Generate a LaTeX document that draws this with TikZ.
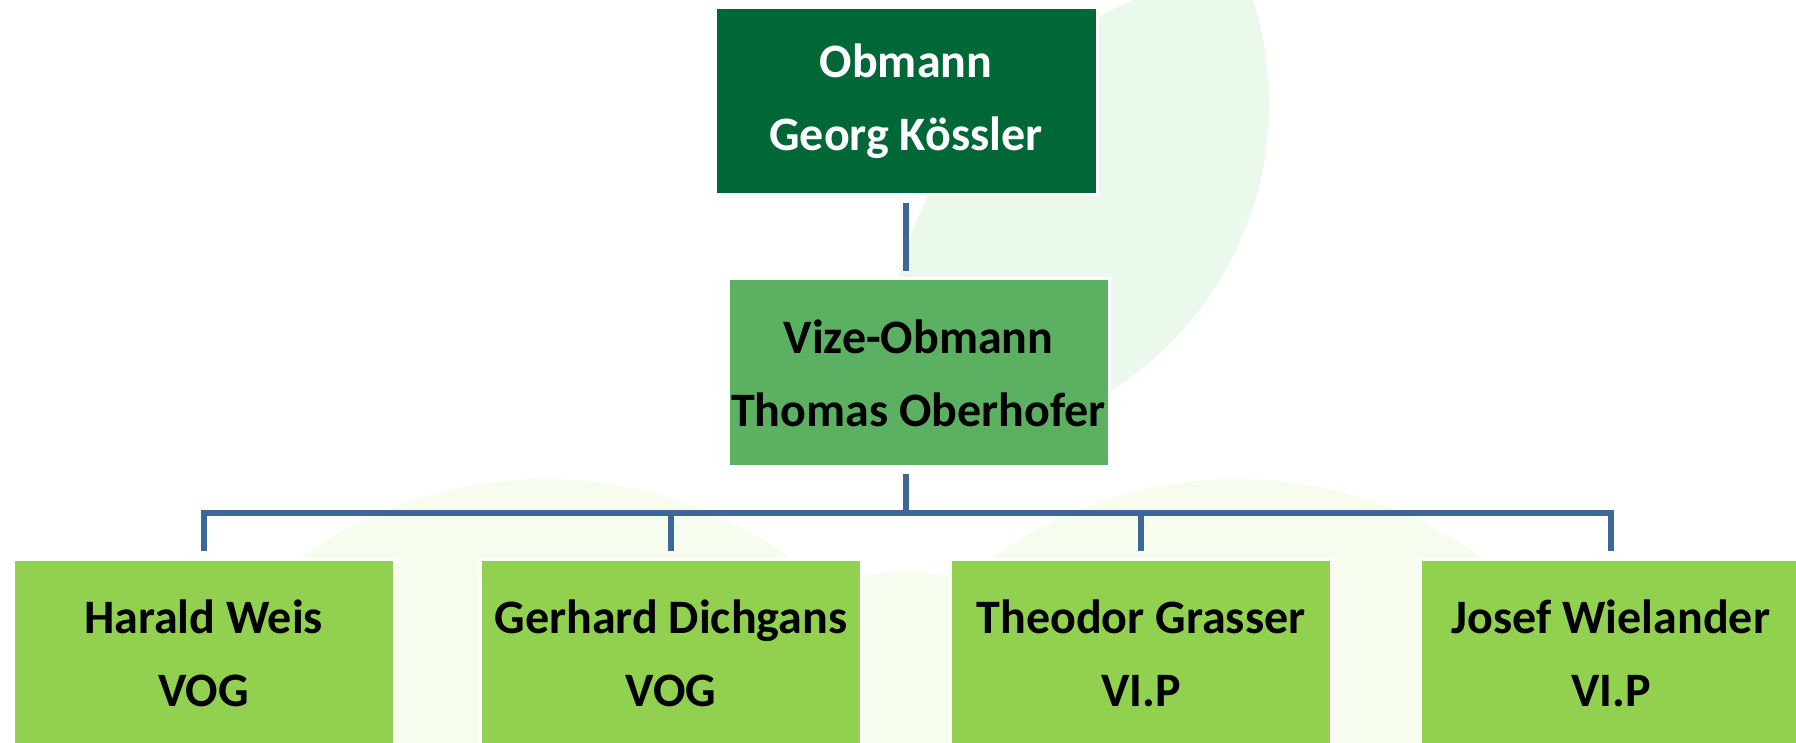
\documentclass[tikz,border=0pt]{standalone}
\usepackage{fontspec}
\setmainfont{Carlito}
\definecolor{darkg}{RGB}{0,104,55}
\definecolor{midg}{RGB}{92,176,98}
\definecolor{lightg}{RGB}{146,208,80}
\definecolor{connblue}{RGB}{61,102,153}
\definecolor{bgone}{RGB}{235,249,236}
\definecolor{bgtwo}{RGB}{246,253,239}
\begin{document}
\begin{tikzpicture}[x=0.5pt,y=-0.5pt,
  box/.style={rectangle, draw=white, line width=1.5pt, minimum width=190.5pt,
    minimum height=94pt, inner sep=0pt, align=center,
    font=\bfseries\fontsize{24}{36.5}\selectfont},
  conn/.style={draw=connblue, line width=3pt, line join=miter}]
\useasboundingbox (0,0) rectangle (1796,743);
\clip (0,0) rectangle (1796,743);
% background decoration: lens-shaped leaf and two round shapes
\begin{scope}
  \clip (1300,380) circle [radius=207.5pt];
  \fill[bgone] (930,104) circle [radius=169.5pt];
\end{scope}
\fill[bgtwo] (545,899) circle [radius=210pt];
\fill[bgtwo] (1237,899) circle [radius=210pt];
\fill[bgtwo] (905,800) circle [radius=114pt];
% boxes
\node[box, fill=darkg, text=white, minimum width=191pt, minimum height=93.5pt] (top) at (906,101.5) {Obmann\\Georg Kössler};
\node[box, fill=midg, text=black] (vize) at (918.5,373) {Vize-Obmann\\Thomas Oberhofer};
\node[box, fill=lightg, text=black] (h1) at (203.5,653) {Harald Weis\\VOG};
\node[box, fill=lightg, text=black] (h2) at (671,653) {Gerhard Dichgans\\VOG};
\node[box, fill=lightg, text=black] (h3) at (1141,653) {Theodor Grasser\\VI.P};
\node[box, fill=lightg, text=black] (h4) at (1611,653) {Josef Wielander\\VI.P};
% connectors
\coordinate (bar) at (906,513);
\draw[conn, shorten <=3.5pt, shorten >=3pt] (top.south) -- (top.south |- vize.north);
\draw[conn, shorten <=3pt] (top.south |- vize.south) -- (bar);
\draw[conn, shorten <=3.5pt, shorten >=3.5pt] (h1.north) -- (h1.north |- bar) -- (h4.north |- bar) -- (h4.north);
\draw[conn, shorten >=3.5pt] (h2.north |- bar) -- (h2.north);
\draw[conn, shorten >=3.5pt] (h3.north |- bar) -- (h3.north);
\end{tikzpicture}
\end{document}
